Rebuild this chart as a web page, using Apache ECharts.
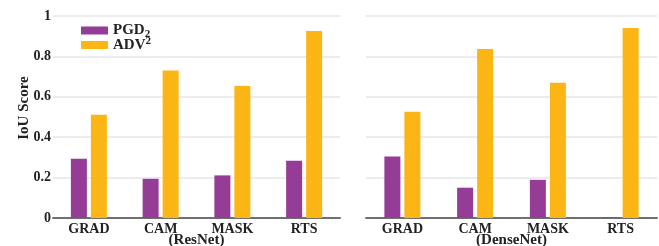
<!DOCTYPE html>
<html>
<head>
<meta charset="utf-8">
<script src="https://cdn.jsdelivr.net/npm/echarts@6/dist/echarts.min.js"></script>
<style>
  html, body { margin: 0; padding: 0; background: #fff; }
  #main { width: 659px; height: 246px; }
</style>
</head>
<body>
<div id="main"></div>
<script>
var categories = ['GRAD', 'CAM', 'MASK', 'RTS'];
var yTicks = [0, 0.2, 0.4, 0.6, 0.8, 1];
var resnetPGD = [0.293, 0.194, 0.211, 0.283];
var resnetADV = [0.511, 0.730, 0.654, 0.926];
var densenetPGD = [0.305, 0.150, 0.189, 0.003];
var densenetADV = [0.526, 0.837, 0.670, 0.941];

var purple = '#953c96';
var orange = '#fbb616';
var font = 'Liberation Serif';

var chart = echarts.init(document.getElementById('main'));

function xAxis(idx, name) {
    return {
        type: 'category',
        gridIndex: idx,
        data: categories,
        name: name,
        nameLocation: 'middle',
        nameGap: 15,
        nameMoveOverlap: false,
        nameTextStyle: { fontFamily: font, fontWeight: 'bold', fontSize: 15, color: '#222', verticalAlign: 'top' },
        axisLine: { lineStyle: { color: '#707070', width: 2 } },
        axisTick: { alignWithLabel: true, length: 3, lineStyle: { color: '#707070' } },
        axisLabel: { fontFamily: font, fontWeight: 'bold', fontSize: 14, color: '#222', margin: 4 }
    };
}

function yAxis(idx, showLabel) {
    return {
        type: 'value',
        gridIndex: idx,
        min: 0,
        max: 1,
        interval: 0.2,
        name: showLabel ? 'IoU Score' : '',
        nameLocation: 'middle',
        nameGap: 21,
        nameMoveOverlap: false,
        nameTextStyle: { fontFamily: font, fontWeight: 'bold', fontSize: 15, color: '#222', padding: [0, 0, 0, 18] },
        axisLine: { show: false },
        axisTick: { show: false },
        splitLine: { lineStyle: { color: '#e6e6e6', width: 1.5 } },
        axisLabel: {
            show: showLabel,
            fontFamily: font, fontWeight: 'bold', fontSize: 14, color: '#222', margin: 2,
            formatter: function (v) { return yTicks.indexOf(v) >= 0 ? String(v) : ''; }
        }
    };
}

function bar(name, data, idx, color) {
    return {
        name: name,
        type: 'bar',
        xAxisIndex: idx,
        yAxisIndex: idx,
        data: data,
        barWidth: 16,
        barGap: '25%',
        itemStyle: { color: color },
        emphasis: { disabled: true }
    };
}

function legend(name, top, label) {
    return {
        left: 76,
        top: top,
        itemWidth: 27,
        itemHeight: 8,
        icon: 'rect',
        selectedMode: false,
        data: [name],
        formatter: function () { return label; },
        textStyle: {
            fontFamily: font, fontWeight: 'bold', fontSize: 15, color: '#222',
            rich: {
                sub: { fontFamily: font, fontWeight: 'bold', fontSize: 11, color: '#222', verticalAlign: 'bottom', padding: [7, 0, 0, 0] },
                sup: { fontFamily: font, fontWeight: 'bold', fontSize: 11, color: '#222', verticalAlign: 'top', padding: [0, 0, 7, 0] }
            }
        }
    };
}

var option = {
    animation: false,
    grid: [
        { left: 53, width: 287, top: 16, bottom: 28, outerBoundsMode: 'none', containLabel: false },
        { left: 366, width: 291, top: 16, bottom: 28, outerBoundsMode: 'none', containLabel: false }
    ],
    legend: [
        legend('PGD', 18, 'PGD{sub|2}'),
        legend('ADV', 31, 'ADV{sup|2}')
    ],
    xAxis: [xAxis(0, '(ResNet)'), xAxis(1, '(DenseNet)')],
    yAxis: [yAxis(0, true), yAxis(1, false)],
    series: [
        bar('PGD', resnetPGD, 0, purple),
        bar('ADV', resnetADV, 0, orange),
        bar('PGD', densenetPGD, 1, purple),
        bar('ADV', densenetADV, 1, orange)
    ]
};

chart.setOption(option);
</script>
</body>
</html>
